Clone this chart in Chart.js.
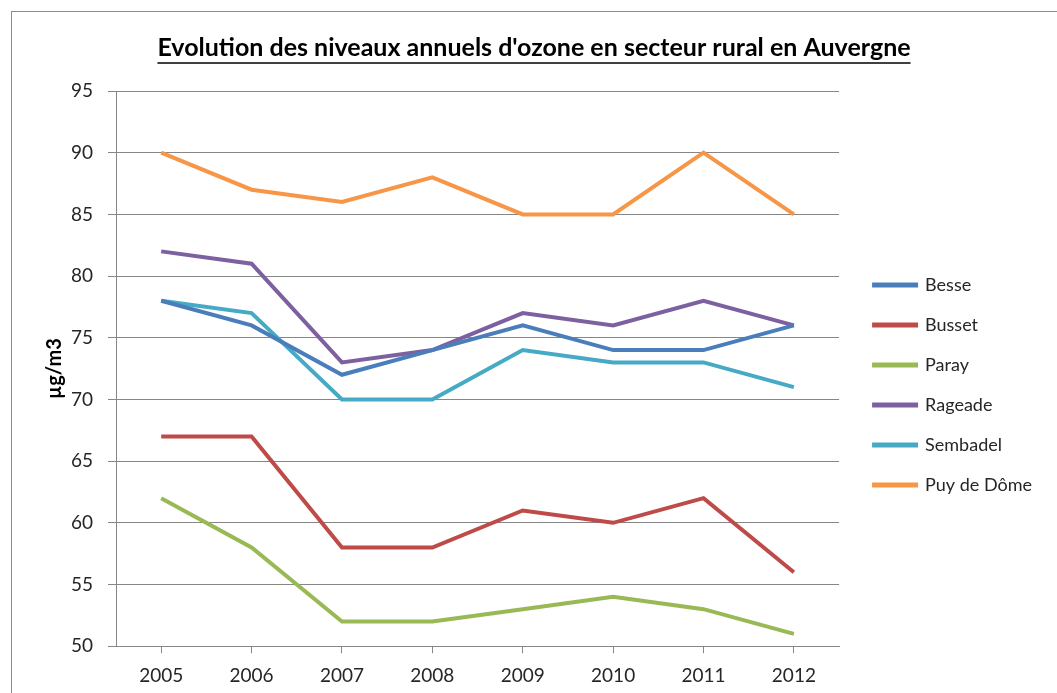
<!DOCTYPE html>
<html>
<head>
<meta charset="utf-8">
<script src="https://cdn.jsdelivr.net/npm/chart.js@4"></script>
<style>
    html, body { margin: 0; padding: 0; background: #fff; overflow: hidden; }
    #box { position: absolute; left: 11px; top: 11px; width: 1060px; height: 700px; border: 1px solid #8c8c8c; }
    #wrap { position: absolute; left: 0; top: 0; width: 1050px; height: 690px; }
</style>
</head>
<body>
<div id="box"><div id="wrap"><canvas id="ozoneChart"></canvas></div></div>
<script>
const years = ['2005', '2006', '2007', '2008', '2009', '2010', '2011', '2012'];
const besse = [78, 76, 72, 74, 76, 74, 74, 76];
const busset = [67, 67, 58, 58, 61, 60, 62, 56];
const paray = [62, 58, 52, 52, 53, 54, 53, 51];
const rageade = [82, 81, 73, 74, 77, 76, 78, 76];
const sembadel = [78, 77, 70, 70, 74, 73, 73, 71];
const puyDeDome = [90, 87, 86, 88, 85, 85, 90, 85];

const font = 'Lato, "Open Sans", sans-serif';

// Excel draws the title underlined, Chart.js does not, so add the line here
const underlineTitle = {
    id: 'underlineTitle',
    afterDraw(chart) {
        const t = chart.titleBlock;
        if (!t) return;
        const ctx = chart.ctx;
        const opts = chart.options.plugins.title;
        ctx.save();
        ctx.font = `bold ${opts.font.size}px ${font}`;
        const w = ctx.measureText(opts.text).width;
        const cx = (t.left + t.right) / 2;
        const y = t.top + opts.padding.top + opts.font.size * 1.2;
        ctx.strokeStyle = '#000';
        ctx.lineWidth = 1.5;
        ctx.beginPath();
        ctx.moveTo(cx - w / 2, y);
        ctx.lineTo(cx + w / 2, y);
        ctx.stroke();
        ctx.restore();
    }
};

// nudge the legend away from the plot, like the Excel original
const legendShift = { x: 13, y: 30 };
const moveLegend = {
    id: 'moveLegend',
    afterLayout(chart) {
        const lg = chart.legend;
        lg.left += legendShift.x;
        lg.right += legendShift.x;
        lg.top += legendShift.y;
        lg.bottom += legendShift.y;
    }
};

const series = [
    { label: 'Besse', data: besse, color: '#4A7EBB' },
    { label: 'Busset', data: busset, color: '#BE4B48' },
    { label: 'Paray', data: paray, color: '#98B954' },
    { label: 'Rageade', data: rageade, color: '#7D60A0' },
    { label: 'Sembadel', data: sembadel, color: '#46AAC5' },
    { label: 'Puy de Dôme', data: puyDeDome, color: '#F79646' }
];

const ctx = document.getElementById('ozoneChart').getContext('2d');
new Chart(ctx, {
    type: 'line',
    data: {
        labels: years,
        datasets: series.map(s => ({
            label: s.label,
            data: s.data,
            borderColor: s.color,
            backgroundColor: s.color,
            borderWidth: 4,
            pointRadius: 0,
            tension: 0,
            fill: false
        }))
    },
    options: {
        responsive: true,
        maintainAspectRatio: false,
        animation: false,
        layout: { padding: { left: 27, right: 33, top: 0, bottom: 4 } },
        plugins: {
            title: {
                display: true,
                text: "Evolution des niveaux annuels d'ozone en secteur rural en Auvergne",
                color: '#000',
                font: { family: font, size: 25, weight: 'bold' },
                padding: { top: 21, bottom: 28 }
            },
            legend: {
                position: 'right',
                align: 'center',
                labels: {
                    color: '#262626',
                    font: { family: font, size: 18 },
                    boxWidth: 42,
                    boxHeight: 1,
                    padding: 22
                }
            },
            tooltip: { enabled: false }
        },
        scales: {
            x: {
                offset: true,
                grid: { drawOnChartArea: false, drawTicks: true, tickLength: 7, color: '#868686' },
                border: { color: '#868686' },
                ticks: { color: '#262626', font: { family: font, size: 19 }, padding: 11 }
            },
            y: {
                min: 50,
                max: 95,
                ticks: { stepSize: 5, color: '#262626', font: { family: font, size: 19 }, padding: 15 },
                grid: { color: '#868686', tickLength: 8 },
                border: { color: '#868686' },
                title: {
                    display: true,
                    text: 'µg/m3',
                    color: '#000',
                    font: { family: font, size: 20, weight: 'bold' }
                },
                afterFit(scale) { scale.width = 77; }
            }
        }
    },
    plugins: [underlineTitle, moveLegend]
});
</script>
</body>
</html>
